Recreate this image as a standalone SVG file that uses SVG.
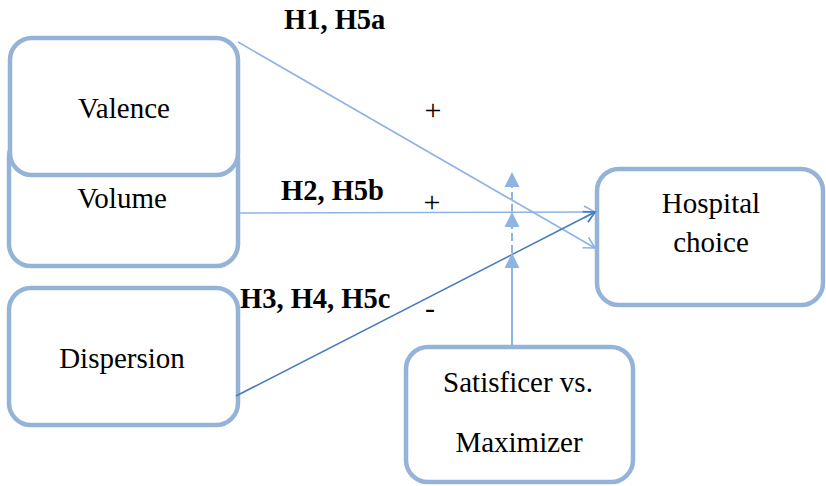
<svg xmlns="http://www.w3.org/2000/svg" width="826" height="486" viewBox="0 0 826 486">
<style>
.box{fill:#fff;stroke:#95b3d7;stroke-width:4.5}
.lbl{font-family:"Liberation Serif","Times New Roman",serif;font-size:29px;fill:#000;text-anchor:middle}
.hyp{font-family:"Liberation Serif","Times New Roman",serif;font-size:28.5px;font-weight:bold;fill:#000}
.sign{font-family:"Liberation Serif","Times New Roman",serif;font-size:30px;fill:#000;text-anchor:middle}
.thin{stroke:#8eb4e3;stroke-width:1.6;fill:none}
.dark{stroke:#4a7ebb;stroke-width:1.6;fill:none}
.mod{stroke:#8eb4e3;stroke-width:2;fill:none}
.tri{fill:#8eb4e3}
</style>
<defs>
<marker id="openL" markerWidth="14" markerHeight="14" refX="12" refY="7" orient="auto" markerUnits="userSpaceOnUse">
<path d="M1,1 L12,7 L1,13" fill="none" stroke="#8eb4e3" stroke-width="1.6"/>
</marker>
<marker id="openD" markerWidth="14" markerHeight="14" refX="12" refY="7" orient="auto" markerUnits="userSpaceOnUse">
<path d="M1,1 L12,7 L1,13" fill="none" stroke="#4a7ebb" stroke-width="1.8"/>
</marker>
</defs>
<g id="volume"><rect class="box" x="9" y="135" width="229" height="131" rx="22"/><text class="lbl" x="122" y="208">Volume</text></g>
<g id="valence"><rect class="box" x="10" y="38" width="228" height="137" rx="22"/><text class="lbl" x="124" y="118">Valence</text></g>
<g id="dispersion"><rect class="box" x="9" y="288" width="229" height="137" rx="22"/><text class="lbl" x="122" y="368">Dispersion</text></g>
<g id="hospital"><rect class="box" x="597" y="169" width="226" height="136" rx="22"/><text class="lbl" x="711" y="213">Hospital</text><text class="lbl" x="711" y="252">choice</text></g>
<g id="moderator"><rect class="box" x="406" y="347" width="227" height="135" rx="22"/><text class="lbl" x="518" y="392">Satisficer vs.</text><text class="lbl" x="519" y="452">Maximizer</text></g>
<g id="connectors">
<line class="thin" x1="238" y1="42" x2="595" y2="248" marker-end="url(#openL)"/>
<line class="thin" x1="238" y1="213" x2="595" y2="212" marker-end="url(#openL)"/>
<line class="dark" x1="236" y1="396" x2="595" y2="212" marker-end="url(#openD)"/>
<line class="mod" x1="512" y1="347" x2="512" y2="266"/>
<line class="mod" x1="512" y1="253" x2="512" y2="226" stroke-dasharray="8,4"/>
<line class="mod" x1="512" y1="212" x2="512" y2="186" stroke-dasharray="8,4"/>
<path class="tri" d="M512,253 L519.5,268 L504.5,268 Z"/>
<path class="tri" d="M512,212 L519.5,227 L504.5,227 Z"/>
<path class="tri" d="M512,172 L519.5,187 L504.5,187 Z"/>
</g>
<g id="labels">
<text class="hyp" x="284" y="29">H1, H5a</text>
<text class="hyp" x="281" y="200">H2, H5b</text>
<text class="hyp" x="240" y="308">H3, H4, H5c</text>
<text class="sign" x="433" y="120">+</text>
<text class="sign" x="432" y="212">+</text>
<text class="sign" x="430" y="318">-</text>
</g>
</svg>
